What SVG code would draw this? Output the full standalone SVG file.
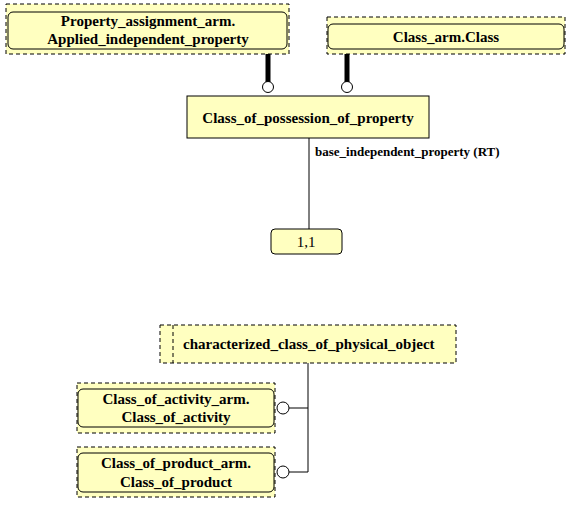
<svg xmlns="http://www.w3.org/2000/svg" width="573" height="505" viewBox="0 0 573 505">
<style>
.dash{fill:#ffffc0;stroke:#000;stroke-width:1;stroke-dasharray:4,3}
.inner{fill:#ffffc0;stroke:#000;stroke-width:1}
.t{font-family:"Liberation Serif",serif;font-weight:bold;font-size:15px;text-anchor:middle;fill:#000}
.lbl{font-family:"Liberation Serif",serif;font-weight:bold;font-size:13px;fill:#000}
.ln{stroke:#000;stroke-width:1;fill:none}
.thick{stroke:#000;stroke-width:5;fill:none}
.circ{fill:#fff;stroke:#000;stroke-width:1}
</style>
<rect width="573" height="505" fill="#fff"/>
<g id="connectors">
<line class="thick" x1="268" y1="54" x2="268" y2="82"/>
<circle class="circ" cx="268" cy="87" r="5.5"/>
<line class="thick" x1="347" y1="54" x2="347" y2="82"/>
<circle class="circ" cx="347" cy="87" r="5.5"/>
<line class="ln" x1="309" y1="138" x2="309" y2="229"/>
<text class="lbl" x="315" y="156">base_independent_property (RT)</text>
<line class="ln" x1="308" y1="363" x2="308" y2="472"/>
<line class="ln" x1="289" y1="408" x2="308" y2="408"/>
<circle class="circ" cx="283" cy="408" r="6"/>
<line class="ln" x1="289" y1="472" x2="308" y2="472"/>
<circle class="circ" cx="283" cy="472" r="6"/>
</g>
<g id="applied_independent_property">
<rect class="dash" x="6" y="4" width="283" height="50"/>
<rect class="inner" x="8" y="12" width="279" height="37" rx="5"/>
<text class="t" x="148" y="26">Property_assignment_arm.</text>
<text class="t" x="148" y="44">Applied_independent_property</text>
</g>
<g id="class_arm_class">
<rect class="dash" x="327" y="17" width="238" height="37"/>
<rect class="inner" x="328" y="24" width="236" height="25" rx="5"/>
<text class="t" x="446" y="42">Class_arm.Class</text>
</g>
<g id="class_of_possession_of_property">
<rect class="inner" x="187" y="96" width="242" height="42"/>
<text class="t" x="308" y="123">Class_of_possession_of_property</text>
</g>
<g id="card_1_1">
<rect class="inner" x="271" y="229" width="71" height="25" rx="4"/>
<text class="t" x="306" y="247" style="font-weight:normal">1,1</text>
</g>
<g id="characterized_class_of_physical_object">
<rect class="dash" x="160" y="325" width="296" height="38"/>
<line class="ln" x1="173" y1="325" x2="173" y2="363" style="stroke-dasharray:4,3"/>
<text class="t" x="183" y="349" style="text-anchor:start">characterized_class_of_physical_object</text>
</g>
<g id="class_of_activity">
<rect class="dash" x="77" y="383" width="198" height="50"/>
<rect class="inner" x="78" y="389" width="196" height="38" rx="5"/>
<text class="t" x="176" y="404">Class_of_activity_arm.</text>
<text class="t" x="176" y="422">Class_of_activity</text>
</g>
<g id="class_of_product">
<rect class="dash" x="77" y="447" width="198" height="50"/>
<rect class="inner" x="78" y="453" width="196" height="39" rx="5"/>
<text class="t" x="176" y="468">Class_of_product_arm.</text>
<text class="t" x="176" y="487">Class_of_product</text>
</g>
</svg>
